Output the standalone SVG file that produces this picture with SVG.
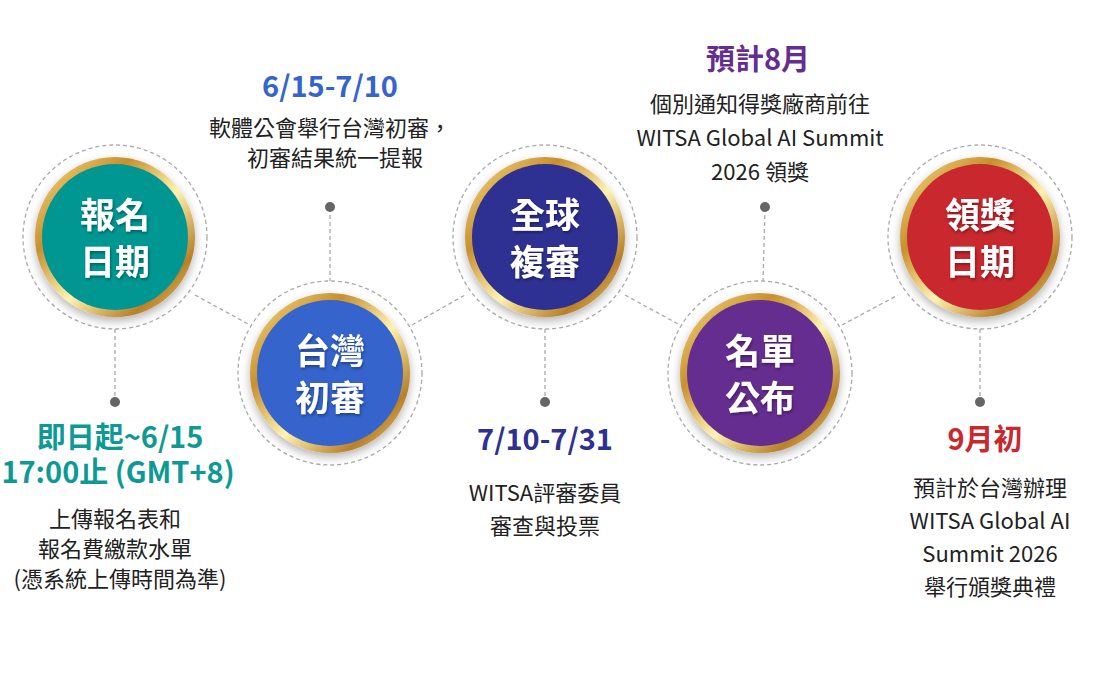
<svg xmlns="http://www.w3.org/2000/svg" width="1100" height="686" viewBox="0 0 1100 686">
<defs>
<linearGradient id="gold" x1="0" y1="0" x2="1" y2="1">
<stop offset="0" stop-color="#f7e08a"/><stop offset="0.3" stop-color="#c8902e"/><stop offset="0.55" stop-color="#fff3b0"/><stop offset="0.8" stop-color="#b8802a"/><stop offset="1" stop-color="#f5dc86"/>
</linearGradient>
<filter id="sh" x="-30%" y="-30%" width="160%" height="160%"><feDropShadow dx="0" dy="4" stdDeviation="5" flood-color="#000" flood-opacity="0.3"/></filter>
<filter id="ts"><feDropShadow dx="1" dy="2" stdDeviation="1.5" flood-color="#000" flood-opacity="0.35"/></filter>
</defs>
<style>
.dash{fill:none;stroke:#aaa;stroke-width:1.3;stroke-dasharray:4 3}
.ring{fill:url(#gold)}
.ct{font-family:"Noto Sans CJK TC","Noto Sans",sans-serif;font-weight:700;font-size:35px;fill:#fff;text-anchor:middle}
.h{font-family:"Noto Sans CJK TC","Noto Sans",sans-serif;font-weight:700;font-size:29px;text-anchor:middle}
.b{font-family:"Noto Sans CJK TC","Noto Sans",sans-serif;font-size:22px;fill:#222;text-anchor:middle}
.dot{fill:#666}
</style>
<g id="connectors">
<line class="dash" x1="195" y1="295" x2="250" y2="325"/>
<line class="dash" x1="412" y1="325" x2="465" y2="295"/>
<line class="dash" x1="625" y1="295" x2="680" y2="325"/>
<line class="dash" x1="842" y1="325" x2="898" y2="295"/>
<line class="dash" x1="115" y1="329" x2="115" y2="402"/>
<line class="dash" x1="330" y1="208" x2="330" y2="281"/>
<line class="dash" x1="545" y1="329" x2="545" y2="402"/>
<line class="dash" x1="765" y1="208" x2="763" y2="281"/>
<line class="dash" x1="980" y1="329" x2="980" y2="402"/>
<circle class="dot" cx="115" cy="402" r="5"/>
<circle class="dot" cx="330" cy="207" r="5"/>
<circle class="dot" cx="545" cy="402" r="5"/>
<circle class="dot" cx="765" cy="207" r="5"/>
<circle class="dot" cx="980" cy="402" r="5"/>
</g>
<g id="n1">
<circle class="dash" cx="115" cy="237" r="92"/>
<circle class="ring" cx="115" cy="237" r="80" filter="url(#sh)"/>
<circle cx="115" cy="237" r="73" fill="#009793"/>
<text class="ct" x="115" y="228" filter="url(#ts)">報名</text><text class="ct" x="115" y="275" filter="url(#ts)">日期</text>
<text class="h" x="120" y="448" fill="#0e9a94">即日起~6/15</text>
<text class="h" x="118" y="483" fill="#0e9a94" font-size="20">17:00止 (GMT+8)</text>
<text class="b" x="115" y="527">上傳報名表和</text>
<text class="b" x="115" y="557">報名費繳款水單</text>
<text class="b" x="120" y="587" font-size="14">(憑系統上傳時間為準)</text>
</g>
<g id="n2">
<circle class="dash" cx="330" cy="373" r="92"/>
<circle class="ring" cx="330" cy="373" r="80" filter="url(#sh)"/>
<circle cx="330" cy="373" r="73" fill="#3464cc"/>
<text class="ct" x="330" y="364" filter="url(#ts)">台灣</text><text class="ct" x="330" y="411" filter="url(#ts)">初審</text>
<text class="h" x="330" y="97" fill="#3464cc">6/15-7/10</text>
<text class="b" x="330" y="136">軟體公會舉行台灣初審，</text>
<text class="b" x="335" y="166">初審結果統一提報</text>
</g>
<g id="n3">
<circle class="dash" cx="545" cy="237" r="92"/>
<circle class="ring" cx="545" cy="237" r="80" filter="url(#sh)"/>
<circle cx="545" cy="237" r="73" fill="#2e3192"/>
<text class="ct" x="545" y="228" filter="url(#ts)">全球</text><text class="ct" x="545" y="275" filter="url(#ts)">複審</text>
<text class="h" x="545" y="450" fill="#2e3192">7/10-7/31</text>
<text class="b" x="545" y="501">WITSA評審委員</text>
<text class="b" x="545" y="534">審查與投票</text>
</g>
<g id="n4">
<circle class="dash" cx="760" cy="373" r="92"/>
<circle class="ring" cx="760" cy="373" r="80" filter="url(#sh)"/>
<circle cx="760" cy="373" r="73" fill="#662d91"/>
<text class="ct" x="760" y="364" filter="url(#ts)">名單</text><text class="ct" x="760" y="411" filter="url(#ts)">公布</text>
<text class="h" x="758" y="70" fill="#662d91">預計8月</text>
<text class="b" x="760" y="112">個別通知得獎廠商前往</text>
<text class="b" x="760" y="146">WITSA Global AI Summit</text>
<text class="b" x="760" y="180">2026 領獎</text>
</g>
<g id="n5">
<circle class="dash" cx="980" cy="237" r="92"/>
<circle class="ring" cx="980" cy="237" r="80" filter="url(#sh)"/>
<circle cx="980" cy="237" r="73" fill="#c8282e"/>
<text class="ct" x="980" y="228" filter="url(#ts)">領獎</text><text class="ct" x="980" y="275" filter="url(#ts)">日期</text>
<text class="h" x="985" y="450" fill="#c8282e">9月初</text>
<text class="b" x="990" y="496">預計於台灣辦理</text>
<text class="b" x="990" y="529">WITSA Global AI</text>
<text class="b" x="990" y="562">Summit 2026</text>
<text class="b" x="990" y="595">舉行頒獎典禮</text>
</g>
</svg>
